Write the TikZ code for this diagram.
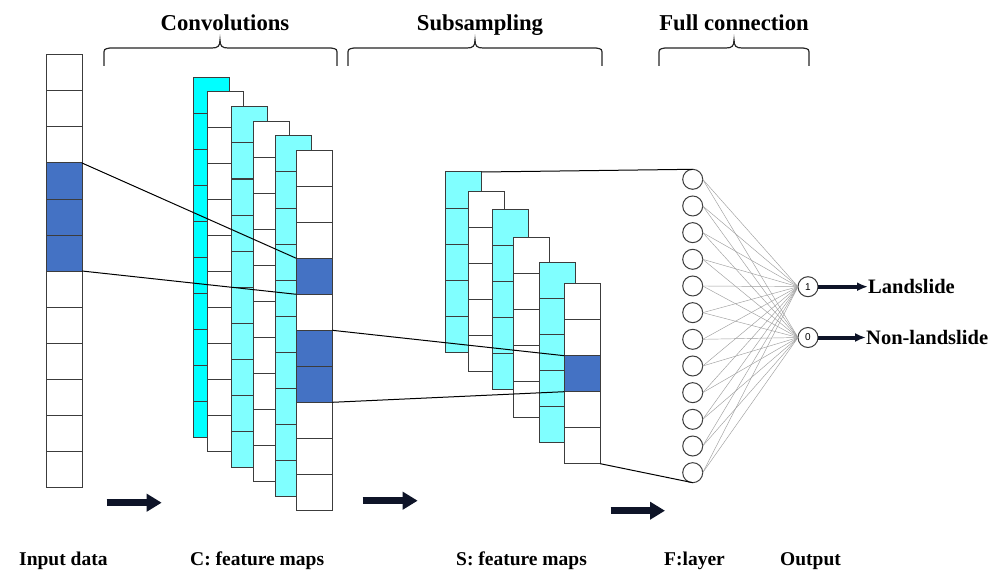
\documentclass[tikz,border=0pt]{standalone}
\usepackage{fontspec}
\setmainfont{Liberation Serif}
\newfontfamily\numfont{Liberation Sans}
\usetikzlibrary{arrows.meta}

\definecolor{cyanA}{HTML}{00FFFF}
\definecolor{cyanB}{HTML}{80FFFF}
\definecolor{blueC}{HTML}{4472C4}
\definecolor{edgeC}{HTML}{3C3C3C}
\definecolor{navyA}{HTML}{0E1428}

\tikzset{
  cell/.style={draw=edgeC, line width=1pt, minimum width=36pt, minimum height=36pt,
    inner sep=0pt, outer sep=0pt, anchor=north west},
  neuron/.style={draw=edgeC, circle, line width=1pt, fill=white, minimum size=20pt,
    inner sep=0pt, outer sep=0pt, font=\numfont\fontsize{10}{11}\selectfont},
  fcline/.style={draw=gray!75, line width=0.45pt},
  link/.style={draw=black, line width=1pt},
  bracestyle/.style={draw=black!85, line width=1.2pt},
  head/.style={font=\bfseries\fontsize{22.7}{26}\selectfont, inner sep=0pt, anchor=base},
  botlab/.style={font=\bfseries\fontsize{19.5}{22}\selectfont, inner sep=0pt, anchor=base west},
  outlab/.style={font=\bfseries\fontsize{20.5}{23}\selectfont, inner sep=0pt, anchor=base west},
  blockarrow/.style={draw=navyA, line width=7pt, -{Triangle[length=15pt,width=17pt]}},
  outarrow/.style={draw=navyA, line width=4pt, -{Latex[length=11pt,width=9pt]}},
}

% column: prefix, x, top, ncells, fill
\newcommand\cnnColumn[5]{%
  \foreach \i in {1,...,#4}{%
    \node[cell, fill=#5] (#1-\i) at ({#2},{#3+36*(\i-1)}) {};
  }%
}
% brace: left x, right x, tip x
\newcommand\topBrace[3]{%
  \draw[bracestyle] (#1,66) -- (#1,55) .. controls (#1,49) .. (#1+6,48)
    -- (#3-8,48) .. controls (#3-2,48) and (#3,46) .. (#3,40)
    .. controls (#3,46) and (#3+2,48) .. (#3+8,48)
    -- (#2-6,48) .. controls (#2,49) .. (#2,55) -- (#2,66);
}

\begin{document}
\begin{tikzpicture}[x=1pt, y=-1pt]
\fill[white] (0,0) rectangle (992,572);
\useasboundingbox (0,0) rectangle (992,572);

% headings and braces
\node[head] (hconv) at (225,31) {Convolutions};
\node[head] (hsub) at (480,31) {Subsampling};
\node[head] (hfull) at (734,31) {Full connection};
\topBrace{104}{337}{220}
\topBrace{348}{602}{475}
\topBrace{659}{809}{734}

% input column
\cnnColumn{in}{46}{55}{12}{white}
\foreach \i in {4,5,6}{\node[cell, fill=blueC] at (in-\i.north west) {};}

% convolution feature maps
\cnnColumn{ca}{193.3}{77.3}{10}{cyanA}
\cnnColumn{cb}{207.3}{91.7}{10}{white}
\cnnColumn{cc}{231.7}{107}{10}{cyanB}
\cnnColumn{cd}{253}{121.7}{10}{white}
\cnnColumn{ce}{275}{136}{10}{cyanB}
\cnnColumn{cf}{296.3}{150.3}{10}{white}
\foreach \i in {4,6,7}{\node[cell, fill=blueC] at (cf-\i.north west) {};}

% subsampling feature maps
\cnnColumn{sa}{445.7}{172}{5}{cyanB}
\cnnColumn{sb}{468.7}{191.3}{5}{white}
\cnnColumn{sc}{492.3}{209}{5}{cyanB}
\cnnColumn{sd}{513.7}{237.7}{5}{white}
\cnnColumn{se}{539.3}{262.7}{5}{cyanB}
\cnnColumn{sf}{564.3}{283.7}{5}{white}
\node[cell, fill=blueC] at (sf-3.north west) {};

% fully connected layer
\foreach \i in {1,...,12}{\node[neuron] (f\i) at (692.7,{179.3+26.67*(\i-1)}) {};}
\node[neuron] (o1) at (808,286.7) {1};
\node[neuron] (o0) at (808,337.5) {0};
\foreach \i in {1,...,12}{
  \draw[fcline] (f\i.east) -- (o1.west);
  \draw[fcline] (f\i.east) -- (o0.west);
}

% projection lines
\draw[link] (in-4.north east) -- (cf-4.north west);
\draw[link] (in-6.south east) -- (cf-4.south west);
\draw[link] (cf-6.north east) -- (sf-3.north west);
\draw[link] (cf-7.south east) -- (sf-3.south west);
\draw[link] (sa-1.north east) -- (f1.north);
\draw[link] (sf-5.south east) -- (f12.south);

% outputs
\node[outlab] (lands) at (868,293) {Landslide};
\node[outlab] (nonl) at (866,344) {Non-landslide};
\draw[outarrow] (o1.east) -- (o1.east -| lands.west);
\draw[outarrow] (o0.east) -- (o0.east -| nonl.west);

% flow arrows
\coordinate (a1s) at (106.7,502.7); \coordinate (a1e) at (161.7,502.7);
\coordinate (a2s) at (362.7,500.7); \coordinate (a2e) at (417.7,500.7);
\coordinate (a3s) at (610.7,510.7); \coordinate (a3e) at (665,510.7);
\draw[blockarrow] (a1s) -- (a1e);
\draw[blockarrow] (a2s) -- (a2e);
\draw[blockarrow] (a3s) -- (a3e);

% bottom labels
\node[botlab] (lin) at (19,565) {Input data};
\node[botlab] (lc) at (190,565) {C: feature maps};
\node[botlab] (ls) at (456,565) {S: feature maps};
\node[botlab] (lf) at (664,565) {F:layer};
\node[botlab] (lo) at (780,565) {Output};
\end{tikzpicture}
\end{document}
